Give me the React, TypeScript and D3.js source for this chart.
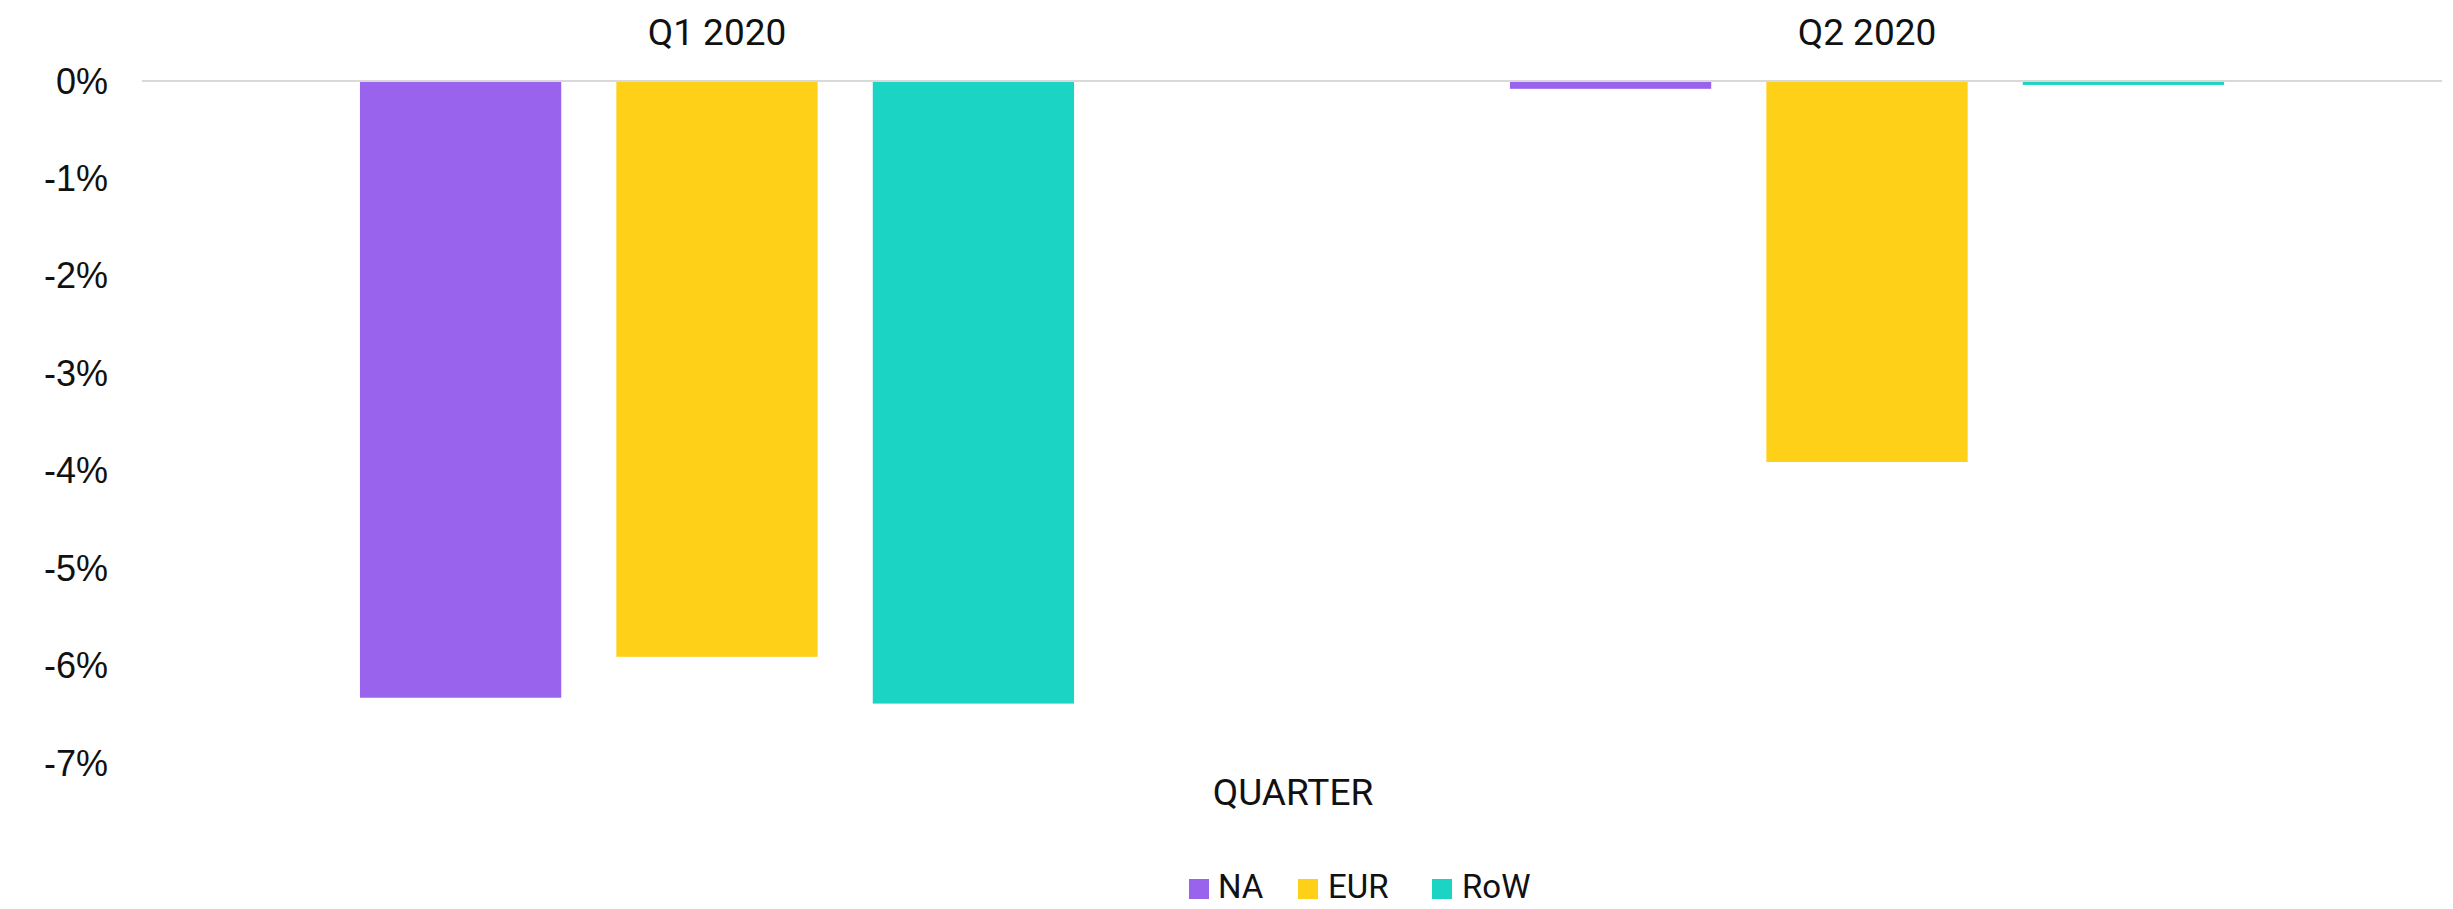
import React from "react";
import * as d3 from "d3";

const quarters = ["Q1 2020", "Q2 2020"];
const seriesNames = ["NA", "EUR", "RoW"];
const naValues = [-6.32, -0.07];
const eurValues = [-5.9, -3.9];
const rowValues = [-6.38, -0.03];
const yTicks = [0, -1, -2, -3, -4, -5, -6, -7];
const colors = ["#9A63EE", "#FED018", "#1BD4C3"];
const axisTitle = "QUARTER";

const W = 2453;
const H = 909;

export default function App() {
  const left = 142;
  const right = 2442;
  const x0 = d3.scaleBand<string>().domain(quarters).range([left, right]).paddingInner(0).paddingOuter(0);
  const x1 = d3
    .scaleBand<string>()
    .domain(seriesNames)
    .range([0, x0.bandwidth()])
    .paddingInner(0.215)
    .paddingOuter(0.85);
  const y = d3.scaleLinear().domain([-7, 0]).range([763, 81]);
  const seriesValues = [naValues, eurValues, rowValues];

  const legendItems = [
    { name: seriesNames[0], sq: 1189, tx: 1218 },
    { name: seriesNames[1], sq: 1298, tx: 1328 },
    { name: seriesNames[2], sq: 1432, tx: 1462 },
  ];

  return (
    <svg
      width={W}
      height={H}
      style={{ position: "absolute", left: 0, top: 0, background: "#fff" }}
    >
      <line x1={left} x2={right} y1={y(0)} y2={y(0)} stroke="#D9D9D9" strokeWidth={2} />
      {quarters.map((q, qi) =>
        seriesNames.map((s, si) => {
          const v = seriesValues[si][qi];
          const bx = (x0(q) as number) + (x1(s) as number);
          return (
            <rect
              key={q + s}
              x={bx}
              y={y(Math.max(0, v)) + 1}
              width={x1.bandwidth()}
              height={Math.abs(y(v) - y(0))}
              fill={colors[si]}
            />
          );
        })
      )}
      {quarters.map((q) => (
        <text
          key={q}
          x={(x0(q) as number) + x0.bandwidth() / 2}
          y={45}
          textAnchor="middle"
          fontFamily="Roboto, sans-serif"
          fontSize={37}
          fill="#111"
        >
          {q}
        </text>
      ))}
      {yTicks.map((t) => (
        <text
          key={t}
          x={108}
          y={y(t)}
          dy="0.35em"
          textAnchor="end"
          fontFamily="'Liberation Sans', Arial, sans-serif"
          fontSize={36}
          fill="#111"
        >
          {`${t}%`}
        </text>
      ))}
      <text
        x={1293}
        y={805}
        textAnchor="middle"
        fontFamily="Roboto, sans-serif"
        fontSize={37}
        fill="#111"
      >
        {axisTitle}
      </text>
      {legendItems.map((it, i) => (
        <g key={it.name}>
          <rect x={it.sq} y={879} width={20} height={20} fill={colors[i]} />
          <text x={it.tx} y={898} fontFamily="Roboto, sans-serif" fontSize={33} fill="#111">
            {it.name}
          </text>
        </g>
      ))}
    </svg>
  );
}
